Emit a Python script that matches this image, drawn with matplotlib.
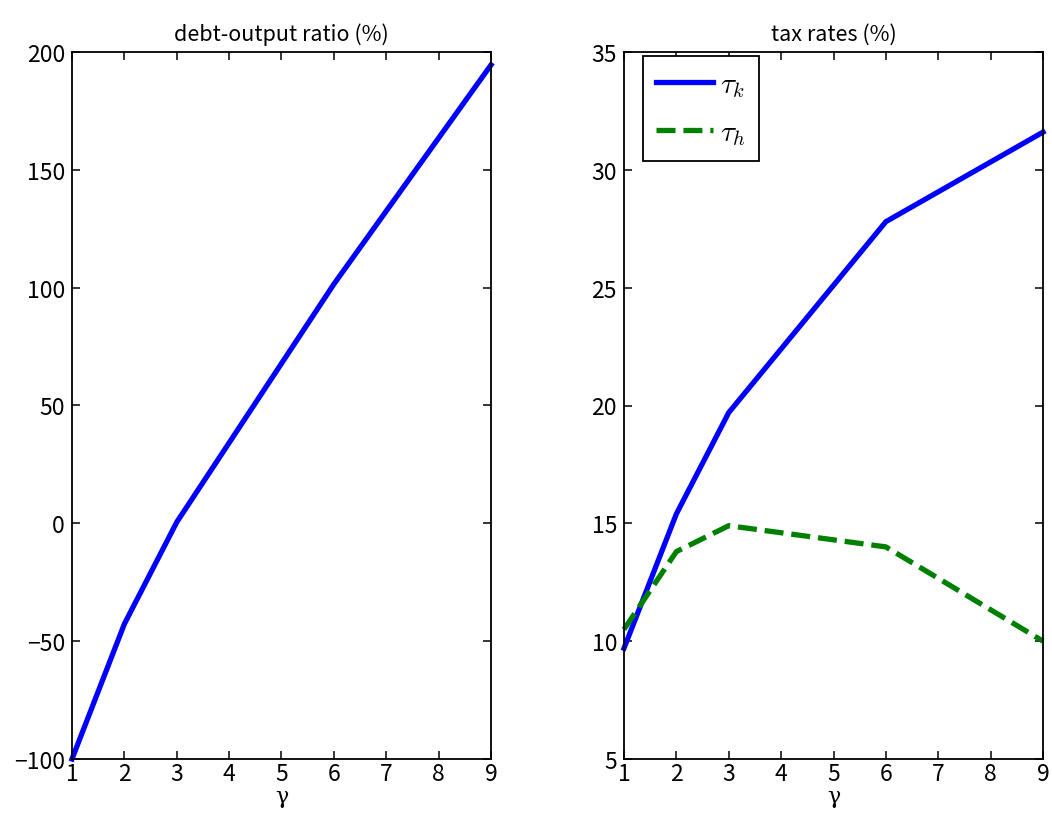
import numpy as np
import matplotlib
matplotlib.use("Agg")
import matplotlib.pyplot as plt

plt.rcParams['font.family'] = ['Noto Sans CJK JP', 'DejaVu Sans']
plt.rcParams['mathtext.fontset'] = 'cm'

# --- data ---
gamma = [1, 2, 3, 6, 9]
debt_ratio = [-100, -42.7, 0.5, 101.5, 194.5]
tau_k = [9.7, 15.4, 19.7, 27.8, 31.6]
tau_h = [10.5, 13.8, 14.9, 14.0, 10.0]

W, H = 1052, 828
fig = plt.figure(figsize=(W / 100, H / 100), dpi=100)

def make_axes(left_px, right_px, top_px=53, bottom_px=760):
    ax = fig.add_axes([left_px / W, 1 - bottom_px / H,
                       (right_px - left_px) / W, (bottom_px - top_px) / H])
    for s in ax.spines.values():
        s.set_linewidth(1.3)
    ax.tick_params(direction='in', top=True, right=True, length=6, width=1.1,
                   labelsize=16.5)
    ax.tick_params(axis='x', pad=2)
    ax.tick_params(axis='y', pad=5)
    ax.set_xlim(1, 9)
    ax.set_xticks(range(1, 10))
    ax.set_xlabel('γ', family='DejaVu Serif', fontsize=16, labelpad=0)
    return ax

# left panel
ax1 = make_axes(72, 491)
ax1.plot(gamma, debt_ratio, color='#0000ff', lw=3.8, clip_on=False)
ax1.set_ylim(-100, 200)
ax1.set_yticks(np.arange(-100, 201, 50))
ax1.set_title('debt-output ratio (%)', fontsize=15.5, pad=9)

# right panel
ax2 = make_axes(624, 1043)
ax2.plot(gamma, tau_k, color='#0000ff', lw=3.8, label=r'$\tau_k$', clip_on=False)
ax2.plot(gamma, tau_h, color='#008000', lw=3.8, ls=(0, (3.6, 1.5)), label=r'$\tau_h$',
         clip_on=False)
ax2.set_ylim(5, 35)
ax2.set_yticks(np.arange(5, 36, 5))
ax2.set_title('tax rates (%)', fontsize=15.5, pad=9)
leg = ax2.legend(loc='upper left', fontsize=21, fancybox=False, edgecolor='black',
                 framealpha=1, handlelength=1.95, handletextpad=0.25, borderpad=0.45,
                 labelspacing=0.62, borderaxespad=0,
                 bbox_to_anchor=(0.045, 0.994))
leg.get_frame().set_linewidth(1.3)

fig.savefig('out.png', dpi=100)
